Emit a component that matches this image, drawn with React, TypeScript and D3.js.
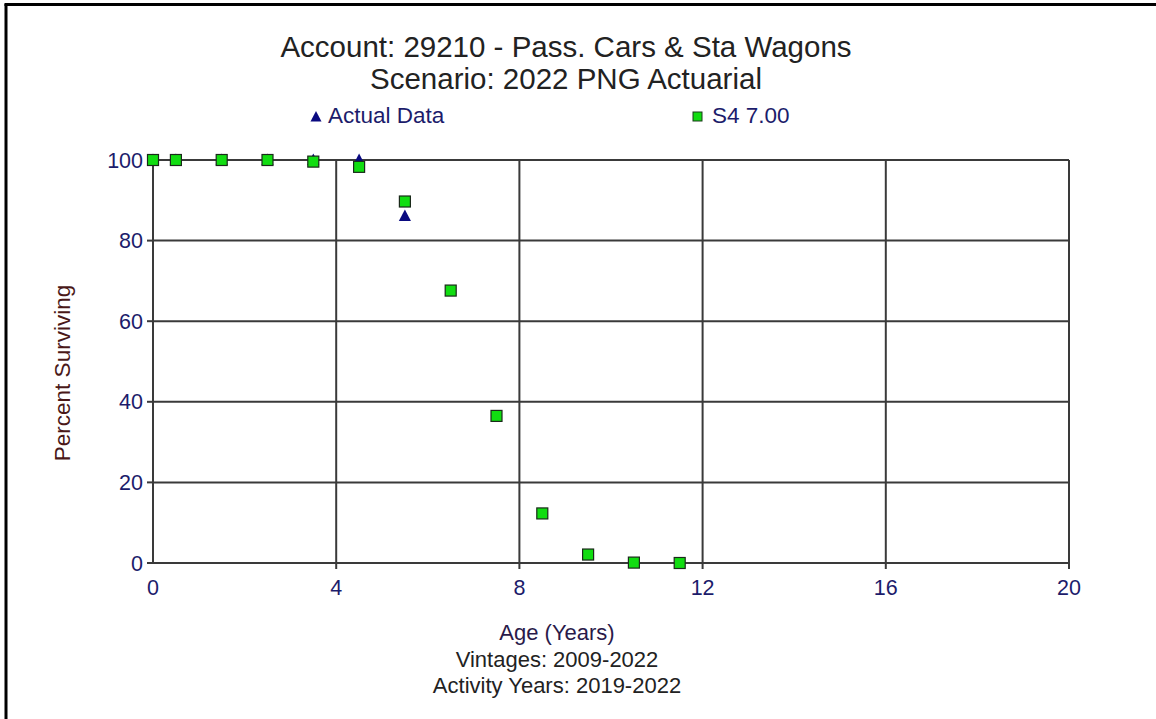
import React from "react";
import * as d3 from "d3";

const titleLines = ["Account: 29210 - Pass. Cars & Sta Wagons", "Scenario: 2022 PNG Actuarial"];
const footerLines = ["Age (Years)", "Vintages: 2009-2022", "Activity Years: 2019-2022"];
const yLabel = "Percent Surviving";
const seriesNames = ["Actual Data", "S4 7.00"];

const actualAges = [0, 0.5, 1.5, 2.5, 3.5, 4.5, 5.5];
const actualValues = [100, 100, 100, 100, 100, 100, 86.1];

const curveAges = [0, 0.5, 1.5, 2.5, 3.5, 4.5, 5.5, 6.5, 7.5, 8.5, 9.5, 10.5, 11.5];
const curveValues = [100, 100, 100, 100, 99.6, 98.3, 89.7, 67.6, 36.5, 12.3, 2.1, 0.1, 0];

const xTicks = [0, 4, 8, 12, 16, 20];
const yTicks = [0, 20, 40, 60, 80, 100];

export default function App() {
  const W = 1156, H = 719;
  const left = 153, right = 1069, top = 160, bottom = 563;
  const x = d3.scaleLinear().domain([0, 20]).range([left, right]);
  const y = d3.scaleLinear().domain([0, 100]).range([bottom, top]);
  const font = "'Liberation Sans', Arial, sans-serif";
  const grid = "#3a3a3a";
  const navy = "#1c1c6b";
  const tri = (cx: number, cy: number, s: number) =>
    `M${cx},${cy - s * 0.6} L${cx + s * 0.55},${cy + s * 0.45} L${cx - s * 0.55},${cy + s * 0.45} Z`;
  const sq = 11;

  return (
    <svg width={W} height={H} style={{ position: "absolute", left: 0, top: 0, background: "#fff" }} fontFamily={font}>
      <rect x={0} y={0} width={W} height={H} fill="#fff" />
      <line x1={6} y1={4} x2={6} y2={H} stroke="#000" strokeWidth={3} />
      <line x1={4.5} y1={4.5} x2={W} y2={4.5} stroke="#000" strokeWidth={3} />

      {titleLines.map((t, i) => (
        <text key={t} x={566} y={57 + i * 32} textAnchor="middle" fontSize={29.5} fill="#222">{t}</text>
      ))}

      {/* legend */}
      <path d={tri(316, 117, 10)} fill="#0a0a80" />
      <text x={328} y={123} fontSize={22.5} fill={navy}>{seriesNames[0]}</text>
      <rect x={693} y={112} width={9} height={9} fill="#11dd11" stroke="#1a3a1a" strokeWidth={1} />
      <text x={712} y={123} fontSize={22.5} fill={navy}>{seriesNames[1]}</text>

      {/* grid */}
      {yTicks.map((t) => (
        <line key={"gy" + t} x1={left} x2={right} y1={y(t)} y2={y(t)} stroke={grid} strokeWidth={2} />
      ))}
      {xTicks.map((t) => (
        <line key={"gx" + t} x1={x(t)} x2={x(t)} y1={top} y2={bottom + (t === 0 ? 0 : 6)} stroke={grid} strokeWidth={2} />
      ))}
      {yTicks.map((t) => (
        <line key={"ty" + t} x1={left - 6} x2={left} y1={y(t)} y2={y(t)} stroke={grid} strokeWidth={2} />
      ))}

      {yTicks.map((t) => (
        <text key={"ly" + t} x={left - 10} y={y(t) + 7.5} textAnchor="end" fontSize={21.5} fill={navy}>{t}</text>
      ))}
      {xTicks.map((t) => (
        <text key={"lx" + t} x={x(t)} y={bottom + 32} textAnchor="middle" fontSize={21.5} fill={navy}>{t}</text>
      ))}

      <text transform={`translate(70,373) rotate(-90)`} textAnchor="middle" fontSize={22.5} fill="#4a1818">{yLabel}</text>
      {footerLines.map((t, i) => (
        <text key={t} x={557} y={640 + i * 26.5} textAnchor="middle" fontSize={22} fill={i === 0 ? "#2a1a4a" : "#222"}>{t}</text>
      ))}

      {/* actual data */}
      {actualAges.map((a, i) => (
        <path key={"a" + i} d={tri(x(a), y(actualValues[i]), 11)} fill="#0a0a80" />
      ))}
      {/* S4 curve */}
      {curveAges.map((a, i) => (
        <rect key={"c" + i} x={x(a) - sq / 2} y={y(curveValues[i]) - sq / 2} width={sq} height={sq}
          fill="#11dd11" stroke="#1a2a1a" strokeWidth={1.2} />
      ))}
    </svg>
  );
}
